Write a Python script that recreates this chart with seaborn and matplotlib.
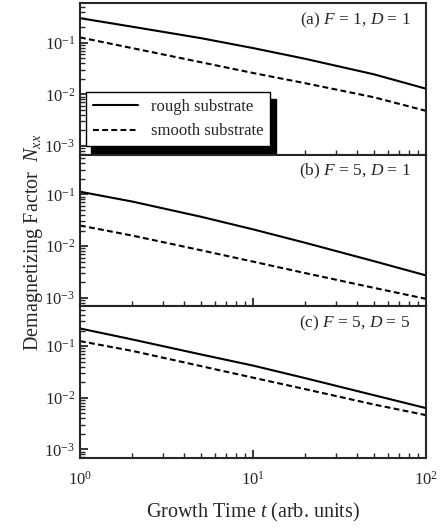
import numpy as np
import pandas as pd
import matplotlib
matplotlib.use("Agg")
import matplotlib.pyplot as plt
import seaborn as sns
from matplotlib.ticker import LogLocator, NullFormatter

# growth time points
t = [1, 2, 5, 10, 20, 50, 100]

# (a) F = 1, D = 1
rough_a = [0.30, 0.205, 0.123, 0.079, 0.049, 0.0245, 0.0129]
smooth_a = [0.127, 0.079, 0.042, 0.026, 0.0165, 0.0088, 0.0048]
# (b) F = 5, D = 1
rough_b = [0.113, 0.073, 0.037, 0.0211, 0.0116, 0.0051, 0.0027]
smooth_b = [0.025, 0.016, 0.0083, 0.0050, 0.0030, 0.00155, 0.00095]
# (c) F = 5, D = 5
rough_c = [0.22, 0.135, 0.069, 0.042, 0.024, 0.0112, 0.0063]
smooth_c = [0.125, 0.081, 0.041, 0.0245, 0.0147, 0.0074, 0.0046]

panel_labels = [r"(a) $F$ = 1, $D$ = 1", r"(b) $F$ = 5, $D$ = 1", r"(c) $F$ = 5, $D$ = 5"]
series_names = ["rough substrate", "smooth substrate"]

sns.set_style("ticks")
plt.rcParams["font.family"] = ["Liberation Serif", "DejaVu Serif"]
plt.rcParams["mathtext.fontset"] = "custom"
plt.rcParams["mathtext.rm"] = "Liberation Serif"
plt.rcParams["mathtext.it"] = "Liberation Serif:italic"
plt.rcParams["mathtext.bf"] = "Liberation Serif:bold"

fig, axs = plt.subplots(3, 1, sharex=True, figsize=(4.45, 5.29), dpi=100,
                        gridspec_kw=dict(hspace=0))
plt.subplots_adjust(left=80/445, right=426/445, top=1-3/529, bottom=1-458/529)

panels = [(rough_a, smooth_a), (rough_b, smooth_b), (rough_c, smooth_c)]
for i, (ax, (rough, smooth)) in enumerate(zip(axs, panels)):
    df = pd.DataFrame({"t": t * 2,
                       "N": rough + smooth,
                       "kind": [series_names[0]] * len(t) + [series_names[1]] * len(t)})
    sns.lineplot(data=df, x="t", y="N", style="kind", style_order=series_names,
                 dashes={series_names[0]: "", series_names[1]: (2.8, 1.6)},
                 color="black", linewidth=1.5, ax=ax, legend=False)
    ax.set_xscale("log")
    ax.set_yscale("log")
    ax.set_xlim(1, 100)
    ax.set_ylim(6.8e-4, 0.59)
    ax.yaxis.set_major_locator(LogLocator(base=10, numticks=10))
    ax.yaxis.set_minor_locator(LogLocator(base=10, subs=np.arange(2, 10), numticks=20))
    ax.yaxis.set_minor_formatter(NullFormatter())
    ax.tick_params(which="both", direction="in", top=False, right=False, labelsize=12)
    ax.tick_params(which="major", length=6, width=1.3)
    ax.tick_params(which="minor", length=3.5, width=1)
    ax.tick_params(axis="x", pad=9)
    for s in ax.spines.values():
        s.set_linewidth(1.5)
    ax.set_xlabel("")
    ax.set_ylabel("")
    ax.text(0.955, 0.95, panel_labels[i], transform=ax.transAxes,
            ha="right", va="top", fontsize=12.5)

axs[2].xaxis.set_minor_formatter(NullFormatter())

# legend only in panel (a)
h = axs[0].get_lines()
leg = axs[0].legend(h[:2], series_names, loc="lower left",
                    bbox_to_anchor=(0.017, 0.057), borderaxespad=0,
                    fancybox=False, edgecolor="black", fontsize=12,
                    handlelength=2.7, framealpha=1,
                    shadow={"ox": 4, "oy": -5, "color": "black", "alpha": 1})
leg.get_frame().set_linewidth(1.0)

fig.text(34/445, 1-242/529, r"Demagnetizing Factor  $N_{xx}$", rotation=90,
         ha="center", va="center", fontsize=14.5)
fig.text(253/445, 1-512/529, r"Growth Time $t$ (arb. units)",
         ha="center", va="center", fontsize=14.5)

fig.savefig("out.png", dpi=100)
